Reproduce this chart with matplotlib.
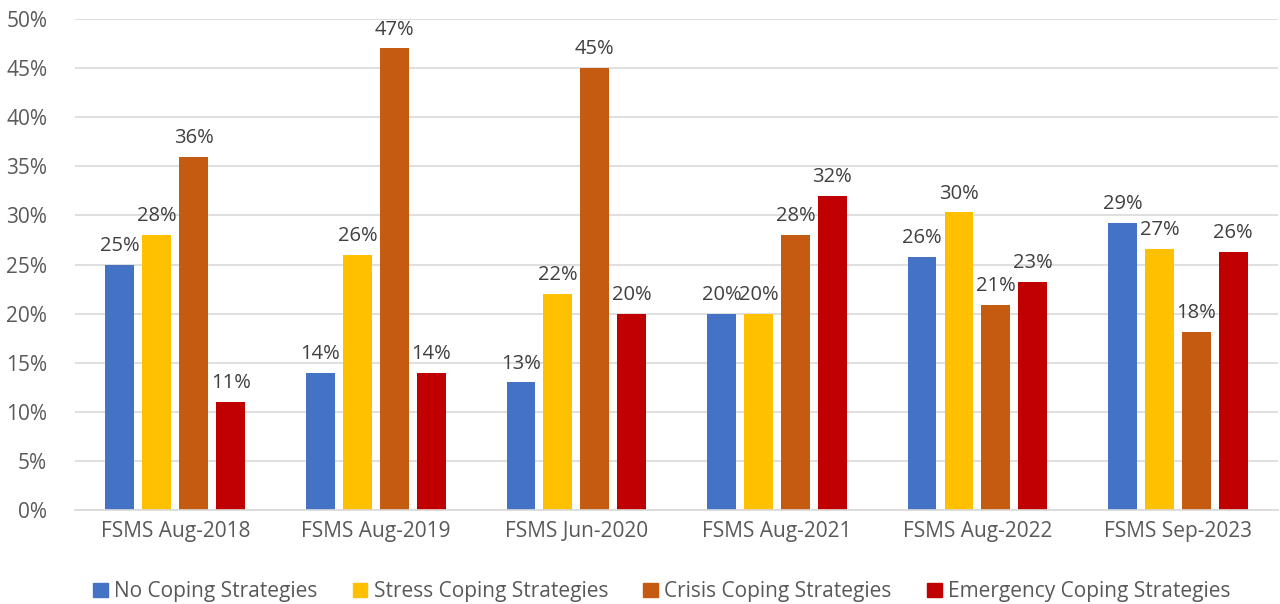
import numpy as np
import matplotlib.pyplot as plt
from matplotlib.patches import Patch

categories = ["FSMS Aug-2018", "FSMS Aug-2019", "FSMS Jun-2020",
              "FSMS Aug-2021", "FSMS Aug-2022", "FSMS Sep-2023"]
series_names = ["No Coping Strategies", "Stress Coping Strategies",
                "Crisis Coping Strategies", "Emergency Coping Strategies"]
no_coping = [25, 14, 13, 20, 25.8, 29.2]
stress = [28, 26, 22, 20, 30.3, 26.6]
crisis = [36, 47, 45, 28, 20.9, 18.1]
emergency = [11, 14, 20, 32, 23.2, 26.3]
colors = ["#4472C4", "#FFC000", "#C55A11", "#C00000"]

plt.rcParams['font.family'] = ['Open Sans', 'DejaVu Sans']

fig = plt.figure(figsize=(12.8, 6.04), dpi=100)
ax = fig.add_axes([0.0586, 0.1556, 0.94, 0.8129])

x = np.arange(len(categories))
width = 0.144
pitch = 0.184
all_series = [no_coping, stress, crisis, emergency]
for i, vals in enumerate(all_series):
    pos = x + (i - 1.5) * pitch
    ax.bar(pos, vals, width, color=colors[i], zorder=2)
    for p, v in zip(pos, vals):
        ax.text(p, v + 0.9, f"{round(v):d}%", ha='center', va='bottom',
                fontsize=14.5, color='#404040')

ax.set_ylim(0, 50)
ax.set_xlim(-0.5, len(categories) - 0.5)
ax.set_yticks(np.arange(0, 51, 5))
ax.set_yticklabels([f"{t}%" for t in range(0, 51, 5)])
ax.set_xticks(x)
ax.set_xticklabels(categories)
ax.tick_params(axis='both', length=0, labelsize=15, colors='#595959', pad=8)
ax.tick_params(axis='y', pad=20)
ax.grid(axis='y', color='#D9D9D9', linewidth=1.2, zorder=0)
for s in ['top', 'right', 'left']:
    ax.spines[s].set_visible(False)
ax.spines['bottom'].set_color('#D9D9D9')
ax.spines['bottom'].set_linewidth(1.2)

handles = [Patch(color=c) for c in colors]
fig.legend(handles, series_names, loc='lower center', ncol=4,
           bbox_to_anchor=(0.517, -0.028), frameon=False, fontsize=15,
           labelcolor='#595959', handlelength=0.7, handleheight=0.7,
           handletextpad=0.3, columnspacing=1.7)

fig.savefig("out.png", dpi=100)
